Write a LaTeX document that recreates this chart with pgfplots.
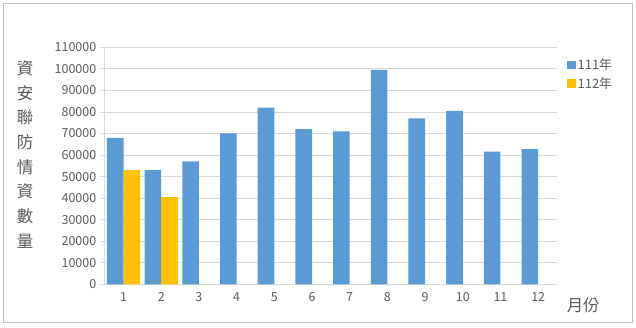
\documentclass[border=0pt]{standalone}
\usepackage{fontspec}
\setmainfont{Noto Sans CJK TC}
\usepackage{pgfplots}
\pgfplotsset{compat=1.18}
\definecolor{xlblue}{HTML}{5B9BD5}
\definecolor{xlyellow}{HTML}{FFC000}
\definecolor{txtgray}{HTML}{595959}
\definecolor{gridgray}{HTML}{D9D9D9}
\begin{document}
\begin{tikzpicture}[x=1bp,y=1bp]
\useasboundingbox (0,0) rectangle (636,327);
\draw[gridgray!70!gray, line width=0.8bp] (3,5) rectangle (632,324);
\begin{axis}[
  at={(104.7bp,42.7bp)}, anchor=south west,
  scale only axis, width=452.3bp, height=237bp,
  xmin=0.5, xmax=12.5, ymin=0, ymax=110000,
  scaled y ticks=false, scaled x ticks=false,
  xtick={1,2,3,4,5,6,7,8,9,10,11,12},
  xticklabels={1,2,3,4,5,6,7,8,9,10,11,12},
  ytick={0,10000,20000,30000,40000,50000,60000,70000,80000,90000,100000,110000},
  yticklabels={0,10000,20000,30000,40000,50000,60000,70000,80000,90000,100000,110000},
  ymajorgrids, grid style={gridgray, line width=0.8bp},
  axis x line*=bottom, axis y line*=left,
  axis line style={gridgray, line width=0.8bp},
  tick align=outside, major tick length=5bp,
  ytick style={gridgray, line width=0.8bp},
  xtick style={draw=none},
  ticklabel style={font=\fontsize{12.5}{13}\selectfont, text=txtgray},
  ybar, bar width=16.6bp,
  ylabel={資\\安\\聯\\防\\情\\資\\數\\量},
  ylabel style={rotate=-90, align=center, at={(axis description cs:-0.176,0.548)}, anchor=center, font=\fontsize{16.5}{24.7}\selectfont, text=txtgray},
  xlabel={月份},
  xlabel style={at={(axis description cs:1.058,-0.088)}, anchor=center, font=\fontsize{16.5}{18}\selectfont, text=txtgray},
  legend style={at={(axis description cs:1.022,0.96)}, anchor=north west, draw=none, fill=none,
    font=\fontsize{13}{14}\selectfont, text=txtgray, row sep=2bp, inner sep=0pt},
  legend cell align=left,
  legend image code/.code={\fill[#1] (0bp,-4bp) rectangle (8.5bp,4.5bp);},
]
\addplot[fill=xlblue, draw=none, bar shift=-8.3bp] coordinates {
  (1,68000) (2,53000) (3,57000) (4,70000) (5,82000) (6,72000)
  (7,71000) (8,99500) (9,77000) (10,80500) (11,61600) (12,62700)};
\addplot[fill=xlyellow, draw=none, bar shift=8.3bp] coordinates {
  (1,53000) (2,40500)};
\legend{111年,112年}
\end{axis}
\end{tikzpicture}
\end{document}
